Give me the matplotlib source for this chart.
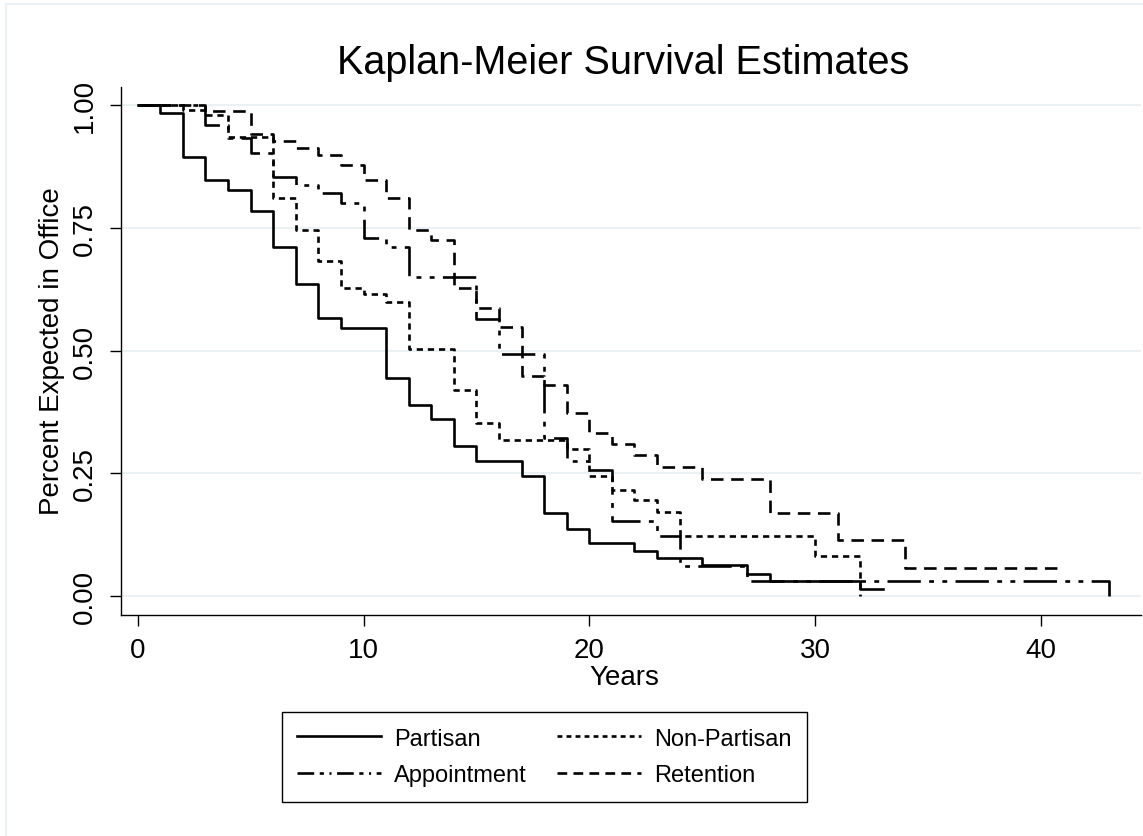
import matplotlib
matplotlib.use("Agg")
import matplotlib.pyplot as plt
from matplotlib import font_manager
from matplotlib.lines import Line2D

# ---------------- data ----------------
partisan_t = [0, 1, 2, 3, 4, 5, 6, 7, 8, 9, 11, 12, 13, 14, 15, 17, 18, 19, 20, 22, 23, 25, 27, 28, 32, 33]
partisan_s = [1.0, 0.983, 0.895, 0.848, 0.827, 0.785, 0.71, 0.636, 0.566, 0.547, 0.445, 0.39, 0.36,
              0.305, 0.275, 0.245, 0.17, 0.138, 0.108, 0.092, 0.077, 0.064, 0.046, 0.031, 0.015, 0.015]

nonpartisan_t = [0, 2, 3, 4, 6, 7, 8, 9, 10, 11, 12, 14, 15, 16, 19, 20, 21, 22, 23, 24, 30, 32]
nonpartisan_s = [1.0, 0.99, 0.98, 0.935, 0.81, 0.746, 0.682, 0.627, 0.616, 0.60, 0.504, 0.42, 0.353,
                 0.318, 0.299, 0.245, 0.216, 0.196, 0.171, 0.123, 0.082, 0.0]

appointment_t = [0, 3, 4, 5, 6, 7, 8, 9, 10, 11, 12, 15, 16, 18, 19, 20, 21, 23, 24, 27, 43]
appointment_s = [1.0, 0.959, 0.933, 0.902, 0.854, 0.837, 0.82, 0.80, 0.729, 0.71, 0.65, 0.565, 0.494,
                 0.322, 0.275, 0.258, 0.153, 0.123, 0.062, 0.031, 0.0]

retention_t = [0, 3, 5, 6, 7, 8, 9, 10, 11, 12, 13, 14, 15, 16, 17, 18, 19, 20, 21, 22, 23, 25, 28, 31, 34, 41]
retention_s = [1.0, 0.988, 0.94, 0.927, 0.912, 0.898, 0.878, 0.848, 0.81, 0.746, 0.726, 0.627, 0.587,
               0.549, 0.449, 0.431, 0.374, 0.333, 0.309, 0.287, 0.264, 0.238, 0.17, 0.114, 0.058, 0.058]

series_labels = ["Partisan", "Non-Partisan", "Appointment", "Retention"]
x_ticks = [0, 10, 20, 30, 40]
y_ticks = [0.0, 0.25, 0.5, 0.75, 1.0]
y_ticklabels = ["0.00", "0.25", "0.50", "0.75", "1.00"]
title_text = "Kaplan-Meier Survival Estimates"
x_label = "Years"
y_label = "Percent Expected in Office"

# ---------------- style ----------------
plt.rcParams["font.family"] = ["Liberation Sans", "DejaVu Sans"]
plt.rcParams["lines.scale_dashes"] = False

W, H = 1143, 837
fig = plt.figure(figsize=(W / 100, H / 100), dpi=100, facecolor="white")

ax_l, ax_r, ax_t, ax_b = 121, 1141, 88, 616
ax = fig.add_axes([ax_l / W, 1 - ax_b / H, (ax_r - ax_l) / W, (ax_b - ax_t) / H])

grid_col = "#e9f1f3"
for yv in y_ticks:
    ax.axhline(yv, color=grid_col, lw=1.5, zorder=0)

lw = 1.9
styles = {
    "Partisan": dict(linestyle="-"),
    "Non-Partisan": dict(linestyle=(0, (4.5, 3.5))),
    "Appointment": dict(linestyle=(0, (24, 6, 3.5, 6, 3.5, 6))),
    "Retention": dict(linestyle=(0, (9, 5.5))),
}
legend_styles = {
    "Partisan": dict(linestyle="-"),
    "Non-Partisan": dict(linestyle=(0, (3.5, 3))),
    "Appointment": dict(linestyle=(0, (12, 4, 3, 4, 1.5, 4))),
    "Retention": dict(linestyle=(0, (7, 4.5))),
}
data = {
    "Partisan": (partisan_t, partisan_s),
    "Non-Partisan": (nonpartisan_t, nonpartisan_s),
    "Appointment": (appointment_t, appointment_s),
    "Retention": (retention_t, retention_s),
}
handles = {}
for name in series_labels:
    t, s = data[name]
    ax.step(t, s, where="post", color="black", lw=lw, **styles[name], zorder=3)
    handles[name] = Line2D([], [], color="black", lw=lw, **legend_styles[name])

x0 = -(137.7 - ax_l) / 22.58
x1 = (ax_r - 137.7) / 22.58
ax.set_xlim(x0, x1)
ypx = 491.3
ax.set_ylim(-(ax_b - 597.3) / ypx, 1 + (106 - ax_t) / ypx)

for side in ["top", "right"]:
    ax.spines[side].set_visible(False)
for side in ["left", "bottom"]:
    ax.spines[side].set_linewidth(1.0)
    ax.spines[side].set_color("black")

ax.set_xticks(x_ticks)
ax.set_xticklabels([str(v) for v in x_ticks])
ax.set_yticks(y_ticks)
ax.set_yticklabels(y_ticklabels, rotation=90, va="center")
ax.tick_params(axis="both", direction="out", length=8, width=1.0, labelsize=20, colors="black")
ax.tick_params(axis="x", pad=8)
ax.tick_params(axis="y", pad=9)

# title and axis titles
fig.text(623 / W, 1 - 74 / H, title_text, ha="center", va="baseline", fontsize=28.5)
fig.text(624 / W, 1 - 678 / H, x_label, ha="center", va="center", fontsize=20)
fig.text(52 / W, 1 - 351 / H, y_label, ha="center", va="center", rotation=90, fontsize=20)

# legend: rows (Partisan, Non-Partisan) / (Appointment, Retention); matplotlib fills columns first
order = ["Partisan", "Appointment", "Non-Partisan", "Retention"]
names = {f.name for f in font_manager.fontManager.ttflist}
if "Liberation Sans Narrow" in names:
    leg_prop = dict(family="Liberation Sans Narrow", size=20)
else:
    leg_prop = dict(family="Liberation Sans", size=17)
fs_px = leg_prop["size"] * 100 / 72
leg = fig.legend([handles[n] for n in order], order, ncol=2, loc="center",
                 bbox_to_anchor=(544.5 / W, 1 - 758 / H),
                 prop=leg_prop, frameon=True, fancybox=False, shadow=False,
                 edgecolor="black", framealpha=1,
                 handlelength=84 / fs_px, handletextpad=13 / fs_px,
                 columnspacing=30 / fs_px, labelspacing=0.62, borderpad=0.65,
                 borderaxespad=0)
leg.get_frame().set_linewidth(1.0)

# faint outer frame of the graph region
fig.add_artist(Line2D([6 / W, 6 / W], [0, 1 - 5 / H], color=grid_col, lw=1.5))
fig.add_artist(Line2D([6 / W, 1], [1 - 5 / H, 1 - 5 / H], color=grid_col, lw=1.5))

fig.savefig("out.png", dpi=100, facecolor="white")
